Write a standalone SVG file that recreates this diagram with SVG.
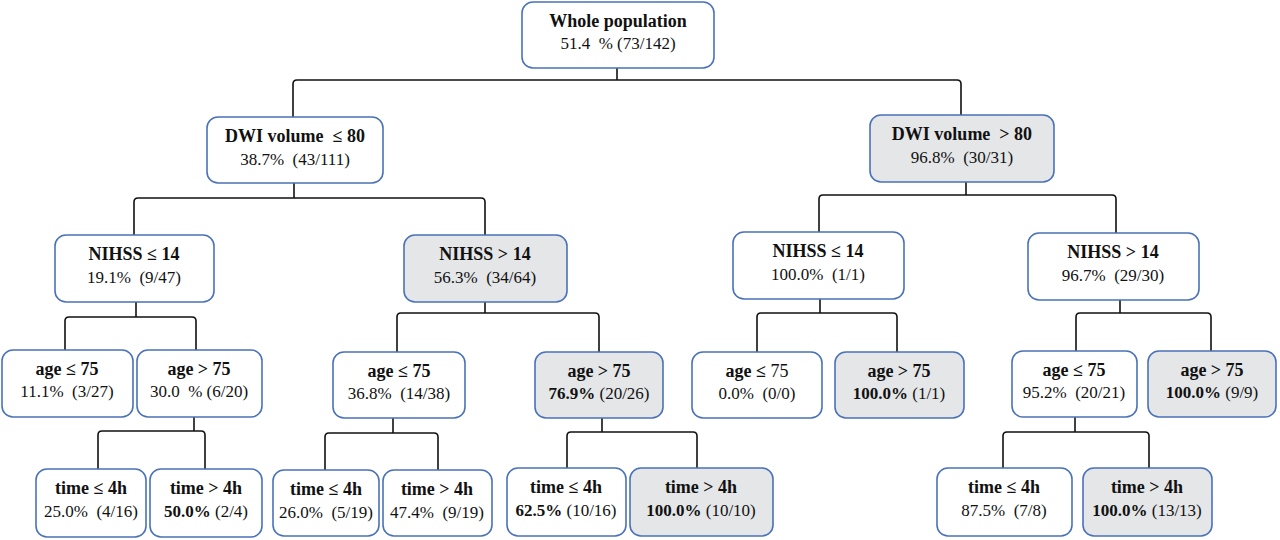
<svg xmlns="http://www.w3.org/2000/svg" width="1280" height="540" viewBox="0 0 1280 540">
<style>
.box{fill:#ffffff;stroke:#4a72b8;stroke-width:1.6}
.gray{fill:#e4e6e8}
text{font-family:"Liberation Serif","Times New Roman",serif;font-size:17px;fill:#111;text-anchor:middle;white-space:pre}
.t{font-weight:bold;font-size:18px}
.b{font-weight:bold}
.conn path{fill:none;stroke:#111;stroke-width:1.6}
</style>
<rect width="1280" height="540" fill="#ffffff"/>
<g class="conn" id="connectors">
<path d="M617 68 V80"/>
<path d="M293 117 V84 Q293 80 297 80 H957 Q961 80 961 84 V115"/>
<path d="M294 183 V198"/>
<path d="M134 235 V202 Q134 198 138 198 H481 Q485 198 485 202 V235"/>
<path d="M966 182 V195"/>
<path d="M819 232 V199 Q819 195 823 195 H1112 Q1116 195 1116 199 V233"/>
<path d="M136 302 V317"/>
<path d="M65 350 V321 Q65 317 69 317 H192 Q196 317 196 321 V350"/>
<path d="M485 302 V313"/>
<path d="M397 352 V317 Q397 313 401 313 H595 Q599 313 599 317 V352"/>
<path d="M820 299 V313"/>
<path d="M757 352 V317 Q757 313 761 313 H893 Q897 313 897 317 V352"/>
<path d="M1120 300 V313"/>
<path d="M1076 351 V317 Q1076 313 1080 313 H1207 Q1211 313 1211 317 V351"/>
<path d="M194 417 V431"/>
<path d="M98 469 V435 Q98 431 102 431 H201 Q205 431 205 435 V469"/>
<path d="M393 418 V433"/>
<path d="M325 470 V437 Q325 433 329 433 H434 Q438 433 438 437 V470"/>
<path d="M602 418 V432"/>
<path d="M567 468 V436 Q567 432 571 432 H693 Q697 432 697 436 V468"/>
<path d="M1075 417 V432"/>
<path d="M1003 468 V436 Q1003 432 1007 432 H1145 Q1149 432 1149 436 V468"/>
</g>
<g id="root"><rect class="box" x="522" y="2" width="192" height="66" rx="11"/><text x="618" y="27" class="t">Whole population</text><text x="618" y="49">51.4  % (73/142)</text></g>
<g id="dwi_le80"><rect class="box" x="207" y="117" width="176" height="66" rx="11"/><text x="295" y="142" class="t">DWI volume  ≤ 80</text><text x="295" y="165">38.7%  (43/111)</text></g>
<g id="dwi_gt80"><rect class="box gray" x="870" y="115" width="184" height="67" rx="11"/><text x="962" y="140" class="t">DWI volume  &gt; 80</text><text x="962" y="163">96.8%  (30/31)</text></g>
<g id="nihss_le14_a"><rect class="box" x="55" y="235" width="159" height="67" rx="11"/><text x="134" y="260" class="t">NIHSS ≤ 14</text><text x="134" y="283">19.1%  (9/47)</text></g>
<g id="nihss_gt14_a"><rect class="box gray" x="404" y="235" width="163" height="67" rx="11"/><text x="485" y="260" class="t">NIHSS &gt; 14</text><text x="485" y="283">56.3%  (34/64)</text></g>
<g id="nihss_le14_b"><rect class="box" x="733" y="232" width="171" height="67" rx="11"/><text x="818" y="257" class="t">NIHSS ≤ 14</text><text x="818" y="280">100.0%  (1/1)</text></g>
<g id="nihss_gt14_b"><rect class="box" x="1028" y="233" width="171" height="67" rx="11"/><text x="1113" y="258" class="t">NIHSS &gt; 14</text><text x="1113" y="281">96.7%  (29/30)</text></g>
<g id="age_le75_a"><rect class="box" x="2" y="350" width="131" height="67" rx="11"/><text x="67" y="375" class="t">age ≤ 75</text><text x="67" y="397">11.1%  (3/27)</text></g>
<g id="age_gt75_a"><rect class="box" x="137" y="350" width="125" height="67" rx="11"/><text x="199" y="375" class="t">age &gt; 75</text><text x="199" y="397">30.0  % (6/20)</text></g>
<g id="age_le75_b"><rect class="box" x="333" y="352" width="132" height="66" rx="11"/><text x="399" y="377" class="t">age ≤ 75</text><text x="399" y="399">36.8%  (14/38)</text></g>
<g id="age_gt75_b"><rect class="box gray" x="535" y="352" width="128" height="66" rx="11"/><text x="599" y="377" class="t">age &gt; 75</text><text x="599" y="399"><tspan class="b">76.9%</tspan> (20/26)</text></g>
<g id="age_le75_c"><rect class="box" x="692" y="352" width="130" height="66" rx="11"/><text x="757" y="377" style="font-size:18px"><tspan class="b">age ≤ </tspan>75</text><text x="757" y="399">0.0%  (0/0)</text></g>
<g id="age_gt75_c"><rect class="box gray" x="835" y="352" width="129" height="66" rx="11"/><text x="899" y="377" class="t">age &gt; 75</text><text x="899" y="399"><tspan class="b">100.0%</tspan> (1/1)</text></g>
<g id="age_le75_d"><rect class="box" x="1012" y="351" width="125" height="66" rx="11"/><text x="1074" y="376" class="t">age ≤ 75</text><text x="1074" y="398">95.2%  (20/21)</text></g>
<g id="age_gt75_d"><rect class="box gray" x="1148" y="351" width="128" height="66" rx="11"/><text x="1212" y="376" class="t">age &gt; 75</text><text x="1212" y="398"><tspan class="b">100.0%</tspan> (9/9)</text></g>
<g id="time_le4_a"><rect class="box" x="36" y="469" width="110" height="68" rx="11"/><text x="91" y="494" class="t">time ≤ 4h</text><text x="91" y="517">25.0%  (4/16)</text></g>
<g id="time_gt4_a"><rect class="box" x="150" y="469" width="112" height="68" rx="11"/><text x="206" y="494" class="t">time &gt; 4h</text><text x="206" y="517"><tspan class="b">50.0%</tspan> (2/4)</text></g>
<g id="time_le4_b"><rect class="box" x="273" y="470" width="106" height="66" rx="11"/><text x="326" y="495" class="t">time ≤ 4h</text><text x="326" y="518">26.0%  (5/19)</text></g>
<g id="time_gt4_b"><rect class="box" x="383" y="470" width="109" height="66" rx="11"/><text x="437" y="495" class="t">time &gt; 4h</text><text x="437" y="518">47.4%  (9/19)</text></g>
<g id="time_le4_c"><rect class="box" x="507" y="468" width="119" height="68" rx="11"/><text x="566" y="493" class="t">time ≤ 4h</text><text x="566" y="516"><tspan class="b">62.5%</tspan> (10/16)</text></g>
<g id="time_gt4_c"><rect class="box gray" x="630" y="468" width="143" height="68" rx="11"/><text x="701" y="493" class="t">time &gt; 4h</text><text x="701" y="516"><tspan class="b">100.0%</tspan> (10/10)</text></g>
<g id="time_le4_d"><rect class="box" x="937" y="468" width="135" height="68" rx="11"/><text x="1004" y="493" class="t">time ≤ 4h</text><text x="1004" y="516">87.5%  (7/8)</text></g>
<g id="time_gt4_d"><rect class="box gray" x="1083" y="468" width="129" height="68" rx="11"/><text x="1147" y="493" class="t">time &gt; 4h</text><text x="1147" y="516"><tspan class="b">100.0%</tspan> (13/13)</text></g>
</svg>
